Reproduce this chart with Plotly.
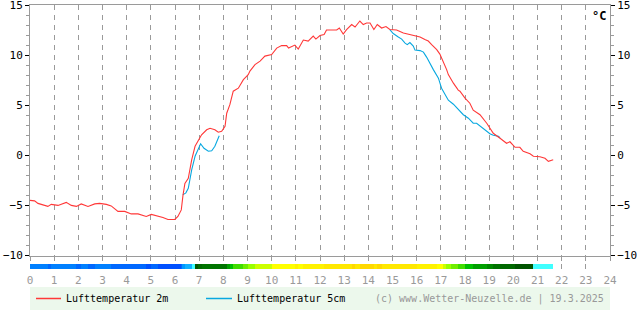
import plotly.graph_objects as go

# ---------------- data ----------------
hours_2m = [0.0, 0.19, 0.33, 0.54, 0.74, 0.88, 1.16, 1.5, 1.71, 1.92, 2.12, 2.4, 2.68, 2.88,
            3.16, 3.36, 3.64, 3.92, 4.19, 4.47, 4.81, 5.02, 5.3, 5.5, 5.71, 5.99, 6.12, 6.26,
            6.33, 6.41, 6.55, 6.69, 6.83, 6.96, 7.1, 7.31, 7.45, 7.65, 7.79, 7.93, 8.07, 8.14,
            8.27, 8.41, 8.62, 8.83, 9.03, 9.1, 9.31, 9.52, 9.72, 10.0, 10.21, 10.41, 10.62, 10.7,
            10.96, 11.1, 11.31, 11.51, 11.72, 11.83, 12.0, 12.17, 12.27, 12.69, 12.8, 12.96, 13.1,
            13.31, 13.45, 13.65, 13.79, 13.93, 14.07, 14.23, 14.37, 14.55, 14.73, 14.89, 15.17,
            15.45, 15.72, 16.0, 16.14, 16.34, 16.48, 16.62, 16.83, 16.96, 17.1, 17.24, 17.31,
            17.45, 17.52, 17.72, 17.79, 18.0, 18.2, 18.34, 18.62, 18.9, 19.17, 19.45, 19.72,
            19.86, 20.07, 20.27, 20.41, 20.69, 20.83, 21.1, 21.31, 21.45, 21.65]
temp_2m = [-4.5, -4.55, -4.8, -4.95, -5.1, -4.9, -5.0, -4.7, -5.0, -5.1, -4.85, -5.1, -4.85, -4.8,
           -4.9, -5.05, -5.6, -5.6, -5.85, -5.85, -6.1, -5.9, -6.05, -6.2, -6.4, -6.4, -6.1, -5.45,
           -4.0, -2.8, -2.3, -0.45, 0.9, 1.4, 2.05, 2.55, 2.7, 2.55, 2.3, 2.4, 2.9, 4.2,
           5.05, 6.4, 6.7, 7.55, 8.05, 8.4, 9.05, 9.4, 9.9, 10.05, 10.7, 10.95, 10.95, 10.7,
           11.0, 10.6, 11.5, 11.4, 11.9, 11.6, 11.95, 12.05, 12.5, 12.5, 12.7, 12.1, 12.55,
           13.05, 12.8, 13.4, 13.05, 13.2, 13.2, 12.55, 13.05, 12.7, 12.85, 12.55, 12.5,
           12.2, 12.05, 11.95, 11.8, 11.55, 11.4, 11.05, 10.55, 10.1, 9.4, 8.55, 8.05,
           7.4, 7.2, 6.5, 6.4, 5.7, 5.2, 4.5, 4.05, 3.2, 2.2, 1.7, 1.2,
           1.35, 0.8, 0.8, 0.4, 0.15, -0.1, -0.15, -0.3, -0.6, -0.45]

hours_5cm = [6.32, 6.45, 6.55, 6.69, 6.83, 6.96, 7.06, 7.2, 7.38, 7.52, 7.65, 7.83, 7.84,
             14.89, 15.03, 15.24, 15.38, 15.52, 15.61, 15.72, 15.86, 15.93, 16.14, 16.28, 16.41,
             16.69, 16.9, 17.03, 17.17, 17.31, 17.52, 17.72, 17.93, 18.14, 18.34, 18.48, 18.62,
             18.83, 19.03, 19.17, 19.38, 19.45]
temp_5cm = [-3.95, -3.75, -3.3, -1.45, -0.1, 0.7, 1.15, 0.7, 0.4, 0.45, 0.9, 1.95, None,
            12.55, 12.15, 11.8, 11.6, 11.2, 11.05, 11.25, 10.9, 10.5, 10.45, 10.3, 9.8,
            8.55, 7.7, 6.7, 6.05, 5.5, 5.1, 4.6, 4.05, 3.7, 3.2, 3.2, 2.95,
            2.55, 2.15, 2.0, 1.9, 1.75]

x_tick_vals = list(range(0, 25))
x_tick_text = [str(h) for h in x_tick_vals]
y_tick_vals = [-10, -5, 0, 5, 10, 15]
y_tick_text = ["\u221210", "\u22125", "0", "5", "10", "15"]

legend_2m = "Lufttemperatur 2m"
legend_5cm = "Lufttemperatur 5cm"
copyright_text = "(c) www.Wetter-Neuzelle.de | 19.3.2025"
unit_text = "\u00b0C"

# temperature colour classes (lower bound, colour)
color_classes = [(-99, "#0050ff"), (-6, "#0068ff"), (-5, "#0080ff"), (-4, "#0098ff"),
                 (-3, "#10b0ff"), (-2, "#20c8ff"), (-1, "#40ffff"), (0, "#005400"),
                 (1, "#006800"), (2, "#007400"), (3, "#008800"), (4, "#00a000"),
                 (5, "#00c000"), (6, "#40dd00"), (7, "#70ee00"), (8, "#99ff00"),
                 (9, "#ccff00"), (10, "#ffff00"), (11, "#fff200"), (12, "#ffe800"),
                 (13, "#ffd800")]


def temp_color(t):
    c = color_classes[0][1]
    for lo, col in color_classes:
        if t >= lo:
            c = col
    return c


# ---------------- geometry ----------------
W, H = 640, 315
ML, MR, MT, MB = 30, 30, 5, 45
PH = H - MT - MB  # plot height in px


def py(p):  # pixel y -> paper y
    return 1 - (p - MT) / PH


def px(p):  # pixel x -> paper x
    return (p - ML) / (W - ML - MR)


FONT = "DejaVu Sans Mono"
RED = "#ff3838"
BLUE = "#08a8e0"
GRAY = "#9a9a9a"

fig = go.Figure()

# colour strip (temperature classes) from the 2m series
bx, bw, bc = [], [], []
for i in range(len(hours_2m) - 1):
    bx.append((hours_2m[i] + hours_2m[i + 1]) / 2)
    bw.append(hours_2m[i + 1] - hours_2m[i])
    bc.append(temp_color(temp_2m[i]))
fig.add_trace(go.Bar(x=bx, y=[1] * len(bx), width=bw, marker=dict(color=bc, line=dict(width=0)),
                     xaxis="x", yaxis="y3", showlegend=False, hoverinfo="skip"))

fig.add_trace(go.Scatter(x=hours_5cm, y=temp_5cm, mode="lines", name=legend_5cm,
                         line=dict(color=BLUE, width=1.1), connectgaps=False,
                         xaxis="x", yaxis="y", showlegend=False))
fig.add_trace(go.Scatter(x=hours_2m, y=temp_2m, mode="lines", name=legend_2m,
                         line=dict(color=RED, width=1.1),
                         xaxis="x", yaxis="y2", showlegend=False))

ydom0 = py(255.5)
yaxis_common = dict(range=[-10, 15], tickvals=y_tick_vals, ticktext=y_tick_text,
                    ticks="outside", ticklen=4, tickcolor="#000", tickwidth=1,
                    showline=True, linecolor=GRAY, linewidth=1,
                    showgrid=False, zeroline=False, ticklabeloverflow="allow",
                    automargin=False,
                    minor=dict(dtick=1, tick0=0, ticks="outside", ticklen=3,
                               tickcolor=GRAY, showgrid=False),
                    tickfont=dict(family=FONT, size=11, color="#000"),
                    domain=[ydom0, 1], fixedrange=True)

fig.update_layout(
    width=W, height=H,
    margin=dict(l=ML, r=MR, t=MT, b=MB, pad=0, autoexpand=False),
    paper_bgcolor="white", plot_bgcolor="white",
    showlegend=False, bargap=0,
    xaxis=dict(range=[0, 24], tickvals=x_tick_vals, ticktext=x_tick_text,
               anchor="y", showgrid=True, gridcolor=GRAY, gridwidth=1, griddash="5px,5px",
               showline=True, linecolor=GRAY, linewidth=1, mirror=True,
               ticks="outside", ticklen=4, tickcolor=GRAY, ticklabelstandoff=10,
               ticklabeloverflow="allow", automargin=False,
               tickfont=dict(family=FONT, size=11, color=GRAY), zeroline=False,
               fixedrange=True),
    yaxis=dict(**yaxis_common, side="left"),
    yaxis2=dict(**yaxis_common, side="right", overlaying="y", anchor="x"),
    yaxis3=dict(domain=[py(269), py(264)], range=[0, 1], visible=False, anchor="x",
                fixedrange=True),
)

# legend box
fig.add_shape(type="rect", xref="paper", yref="paper", x0=px(30), x1=px(610),
              y0=py(310), y1=py(287), fillcolor="#ecf8ec", line=dict(width=0), layer="below")
ly = py(298.5)
fig.add_shape(type="line", xref="paper", yref="paper", x0=px(36), x1=px(61), y0=ly, y1=ly,
              line=dict(color=RED, width=1.5))
fig.add_shape(type="line", xref="paper", yref="paper", x0=px(206), x1=px(232), y0=ly, y1=ly,
              line=dict(color=BLUE, width=1.5))
fig.add_annotation(text=legend_2m, xref="paper", yref="paper", x=px(64), y=ly,
                   xanchor="left", yanchor="middle", showarrow=False,
                   font=dict(family=FONT, size=10, color="#000"))
fig.add_annotation(text=legend_5cm, xref="paper", yref="paper", x=px(235), y=ly,
                   xanchor="left", yanchor="middle", showarrow=False,
                   font=dict(family=FONT, size=10, color="#000"))
fig.add_annotation(text=copyright_text, xref="paper", yref="paper", x=px(606), y=ly,
                   xanchor="right", yanchor="middle", showarrow=False,
                   font=dict(family=FONT, size=10, color="#999"))
fig.add_annotation(text="<b>" + unit_text + "</b>", xref="paper", yref="paper", x=px(599),
                   y=py(16), xanchor="center", yanchor="middle", showarrow=False,
                   font=dict(family=FONT, size=12, color="#000"))

fig.write_html("out.html")
